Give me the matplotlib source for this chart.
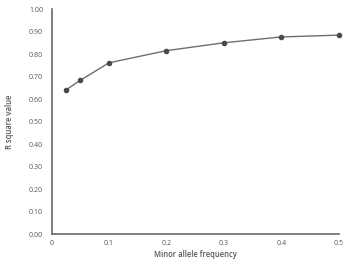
import matplotlib
matplotlib.use("Agg")
import matplotlib.pyplot as plt

# Data
maf = [0.025, 0.05, 0.1, 0.2, 0.3, 0.4, 0.5]
r_square = [0.640, 0.683, 0.761, 0.815, 0.850, 0.876, 0.884]
xticks = [0, 0.1, 0.2, 0.3, 0.4, 0.5]
xtick_labels = ["0", "0.1", "0.2", "0.3", "0.4", "0.5"]
yticks = [i / 10 for i in range(11)]

plt.rcParams['font.family'] = ['Open Sans', 'DejaVu Sans']

fig = plt.figure(figsize=(3.49, 2.61), dpi=100)
ax = fig.add_axes([0.1476, 0.1034, 0.8234, 0.862])

ax.plot(maf, r_square, color='#6e6e6e', lw=1.0, marker='o', ms=3,
        mfc='#4a4a4a', mec='#4a4a4a', clip_on=False, zorder=3)

ax.set_xlim(0, 0.5)
ax.set_ylim(0, 1.0)
ax.set_xticks(xticks)
ax.set_xticklabels(xtick_labels)
ax.set_yticks(yticks)
ax.set_yticklabels(["%.2f" % v for v in yticks])

for s in ['top', 'right']:
    ax.spines[s].set_visible(False)
for s in ['left', 'bottom']:
    ax.spines[s].set_color('#6a6a6a')
    ax.spines[s].set_linewidth(1.2)

ax.tick_params(length=0, labelsize=5, colors='#555555')
ax.tick_params(axis='x', pad=4.5)
ax.tick_params(axis='y', pad=6)
ax.set_xlabel("Minor allele frequency", fontsize=5.5, color='#555555',
              fontweight='semibold', labelpad=2)
ax.set_ylabel("R square value", fontsize=5.5, color='#555555',
              fontweight='semibold', labelpad=11)

fig.savefig("out.png", dpi=100)
